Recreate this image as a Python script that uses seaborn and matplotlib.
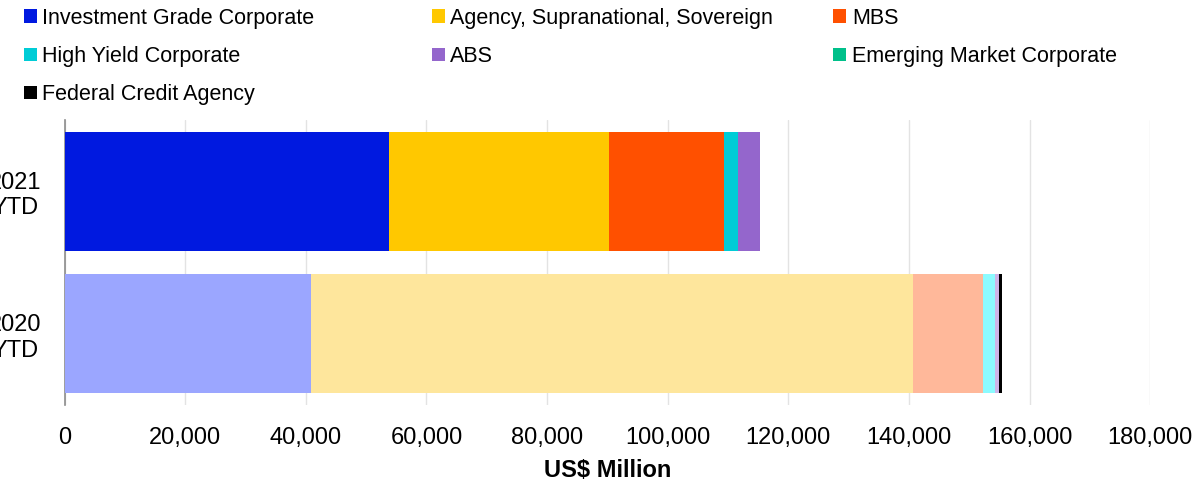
import numpy as np
import pandas as pd
import seaborn as sns
import matplotlib.pyplot as plt
from matplotlib.patches import Patch

# %% data
years = ['2021\nYTD', '2020\nYTD']
series = ['Investment Grade Corporate', 'Agency, Supranational, Sovereign', 'MBS',
          'High Yield Corporate', 'ABS', 'Emerging Market Corporate',
          'Federal Credit Agency']
ig = [53800, 40900]
agency = [36500, 99850]
mbs = [19050, 11600]
hy = [2250, 1950]
abs_ = [3700, 650]
em = [0, 0]
fca = [0, 450]
values = [ig, agency, mbs, hy, abs_, em, fca]

# strong colours for 2021, pale for 2020
dark = ['#0019E0', '#FFC800', '#FF5000', '#00CCD6', '#9466CC', '#00C08A', '#000000']
light = ['#9BA6FF', '#FEE69C', '#FFB89A', '#8CFBFF', '#CDB5E8', '#8CE8C8', '#000000']

# %% frame
rows = []
cum = np.zeros(len(years))
for name, v in zip(series, values):
    cum = cum + np.array(v)
    for y, c in zip(years, cum):
        rows.append({'series': name, 'year': y, 'cum': c})
df = pd.DataFrame(rows)

sns.set_theme(style='white')
plt.rcParams['font.family'] = ['Liberation Sans', 'DejaVu Sans']
plt.rcParams['text.color'] = 'black'

fig = plt.figure(figsize=(11.99, 4.84), dpi=100)
ax = fig.add_axes([0.0538, 0.163, 0.9055, 0.589])

# draw cumulative totals from the outermost segment inward
for i in reversed(range(len(series))):
    sub = df[df['series'] == series[i]]
    sns.barplot(sub, x='cum', y='year', hue='year', order=years,
                palette={years[0]: dark[i], years[1]: light[i]},
                orient='h', width=0.835, dodge=False, errorbar=None,
                saturation=1, legend=False, ax=ax, linewidth=0, zorder=3)

ax.set_xlim(0, 180000)
ax.set_ylim(1.5, -0.5)
ax.set_xticks(np.arange(0, 180001, 20000))
ax.xaxis.set_major_formatter(plt.FuncFormatter(lambda v, p: f'{int(v):,}'))
ax.grid(axis='x', color='#E3E3E3', linewidth=1, zorder=0)
ax.set_axisbelow(True)
for s in ['top', 'right', 'bottom']:
    ax.spines[s].set_visible(False)
ax.spines['left'].set_color('#8C8C8C')
ax.spines['left'].set_linewidth(1.2)
ax.tick_params(axis='x', length=0, pad=16, labelsize=17, labelcolor='black')
ax.tick_params(axis='y', length=0, pad=17, labelsize=17, labelcolor='black')
for t in ax.get_yticklabels():
    t.set_multialignment('center')
ax.set_ylabel('')
ax.set_xlabel('US$ Million', fontsize=17, fontweight='bold', color='black', labelpad=7)

# %% legend, one block per column
cols = [[0, 3, 6], [1, 4], [2, 5]]
xs = [0.004, 0.344, 0.679]
for idx, x0 in zip(cols, xs):
    handles = [Patch(facecolor=dark[i], edgecolor='none', label=series[i]) for i in idx]
    fig.legend(handles=handles, loc='upper left', bbox_to_anchor=(x0, 1.024),
               frameon=False, fontsize=15.5, handlelength=0.6, handleheight=0.6,
               handletextpad=0.25, labelspacing=0.8, labelcolor='black')

fig.savefig('out.png', dpi=100)
